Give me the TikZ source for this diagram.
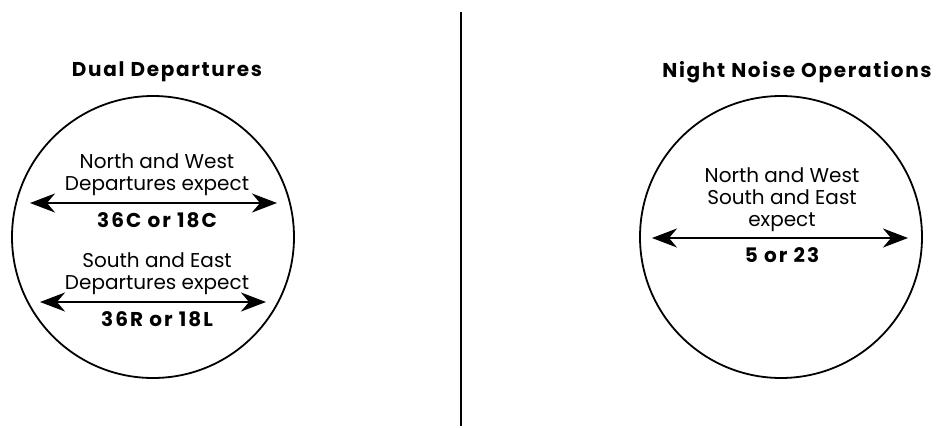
\documentclass[tikz,border=0pt]{standalone}
\usepackage{fontspec}
\setmainfont{Poppins}
\newfontfamily\titlefont[LetterSpace=8.5]{Poppins}
\newfontfamily\runwayfont[LetterSpace=10]{Poppins}
\usetikzlibrary{arrows.meta}
\tikzset{
  ring/.style={circle,draw,line width=1.8pt,minimum size=282pt,inner sep=0pt},
  title/.style={font=\titlefont\fontsize{20}{22}\selectfont\bfseries,inner sep=0pt},
  body/.style={font=\fontsize{20}{22}\selectfont,align=center,inner sep=0pt},
  runway/.style={font=\runwayfont\fontsize{20}{22}\selectfont\bfseries,inner sep=0pt},
  dbl/.style={line width=2.4pt,{Stealth[length=25pt,width=19pt,inset=8pt]}-{Stealth[length=25pt,width=19pt,inset=8pt]}},
  divider/.style={line width=2.2pt}
}
\begin{document}
\begin{tikzpicture}[x=1pt,y=-1pt]
\useasboundingbox (0,0) rectangle (937,428);
% divider
\coordinate (dtop) at (461,12);
\coordinate (dbot) at (461,426);
\draw[divider] (dtop) -- (dbot);
% left panel
\node[title] (t1) at (167,72) {Dual Departures};
\node[ring] (c1) at (153,237) {};
\node[body] (nw1) at (157,174.5) {North and West\\Departures expect};
\coordinate (a1l) at (30,203);
\coordinate (a1r) at (277,203);
\draw[dbl] (a1l) -- (a1r);
\node[runway] (r1) at (157,220) {36C or 18C};
\node[body] (se1) at (157,274) {South and East\\Departures expect};
\coordinate (a2l) at (40,302);
\coordinate (a2r) at (266,302);
\draw[dbl] (a2l) -- (a2r);
\node[runway] (r2) at (157,319) {36R or 18L};
% right panel
\node[title] (t2) at (797,72) {Night Noise Operations};
\node[ring] (c2) at (781,237) {};
\node[body] (nw2) at (782,200) {North and West\\South and East\\expect};
\coordinate (a3l) at (652,238);
\coordinate (a3r) at (908,238);
\draw[dbl] (a3l) -- (a3r);
\node[runway] (r3) at (782,255) {5 or 23};
\end{tikzpicture}
\end{document}
